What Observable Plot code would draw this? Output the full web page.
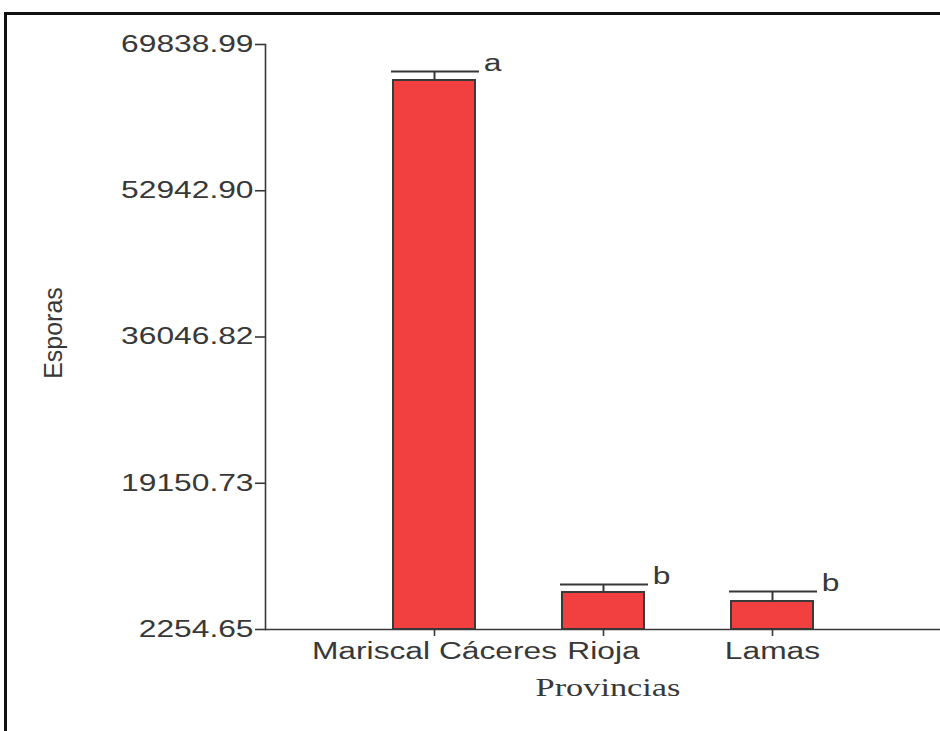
<!DOCTYPE html>
<html>
<head>
<meta charset="utf-8">
<script src="https://cdn.jsdelivr.net/npm/d3@7"></script>
<script src="https://cdn.jsdelivr.net/npm/@observablehq/plot@0.6"></script>
<style>
  html, body { margin: 0; padding: 0; background: #fff; overflow: hidden; }
  #wrap { position: relative; width: 940px; height: 731px; }
  #wrap svg { position: absolute; left: 0; top: 0; }
  #border {
    position: absolute; left: 4px; top: 12px; width: 1000px; height: 1000px;
    border: 3px solid #111; pointer-events: none;
  }
</style>
</head>
<body>
<div id="wrap"><div id="border"></div></div>
<script>
// Spore counts per province (mean, mean + standard error) with Tukey letters
const provinces = ["Mariscal Cáceres", "Rioja", "Lamas"];
const means = [65680, 6530, 5490];
const upperErrors = [66720, 7450, 6650];
const letters = ["a", "b", "b"];
const yTicks = [2254.65, 19150.73, 36046.82, 52942.90, 69838.99];

const rows = provinces.map((p, i) => ({
  province: p, mean: means[i], upper: upperErrors[i], letter: letters[i]
}));

const ink = "#383838";
const base = yTicks[0];

const chart = Plot.plot({
  width: 940,
  height: 731,
  marginLeft: 265,
  marginRight: 0,
  marginTop: 44,
  marginBottom: 102,
  style: {
    fontFamily: "'Liberation Sans', Arial, sans-serif",
    fontSize: "23px",
    color: ink,
    background: "transparent"
  },
  x: { domain: provinces, paddingInner: 0.515, paddingOuter: 0.754, label: null },
  y: { domain: [yTicks[0], yTicks[yTicks.length - 1]], label: null },
  marks: [
    Plot.rectY(rows, {
      x: "province", y1: base, y2: "mean",
      fill: "#f23f3f", stroke: "#3a3a3a", strokeWidth: 2
    }),
    Plot.ruleX(rows, { x: "province", y1: "mean", y2: "upper", stroke: ink, strokeWidth: 2 }),
    Plot.tickY(rows, {
      x: "province", y: "upper", stroke: ink, strokeWidth: 2,
      insetLeft: -2, insetRight: -4
    }),
    Plot.text(rows, {
      x: "province", y: "upper", text: "letter",
      dx: 58, dy: -8, fontSize: 23, fill: ink
    }),
    // axis lines: baseline across the plot, vertical line on the left edge
    Plot.ruleY([base], { stroke: ink, strokeWidth: 1.6 }),
    Plot.frame({ anchor: "left", stroke: ink, strokeWidth: 1.6 }),
    Plot.axisY({
      ticks: yTicks, tickFormat: d3.format(".2f"),
      tickSize: 10, tickPadding: 2, strokeWidth: 1.6,
      fontSize: 23, label: null
    }),
    Plot.axisX({ tickSize: 7, tickPadding: 6, strokeWidth: 1.6, fontSize: 23, label: null }),
    Plot.text(["Esporas"], {
      frameAnchor: "left", textAnchor: "middle", dx: -212, dy: -4, rotate: -90,
      fontSize: 25, fill: ink
    }),
    Plot.text(["Provincias"], {
      frameAnchor: "bottom", dx: 5, dy: 66,
      fontFamily: "'Liberation Serif', 'Times New Roman', serif",
      fontSize: 26, fill: ink
    })
  ]
});

document.getElementById("wrap").appendChild(chart);

// Widen the horizontal lettering, as in the original graphic
d3.select(chart).selectAll("text").each(function () {
  const t = this.textContent;
  if (t === "Esporas") return;
  const factor = t === "Provincias" ? 1.32 : 1.38;
  const len = this.getComputedTextLength();
  if (len > 0) {
    this.setAttribute("textLength", (len * factor).toFixed(1));
    this.setAttribute("lengthAdjust", "spacingAndGlyphs");
  }
});
</script>
</body>
</html>
